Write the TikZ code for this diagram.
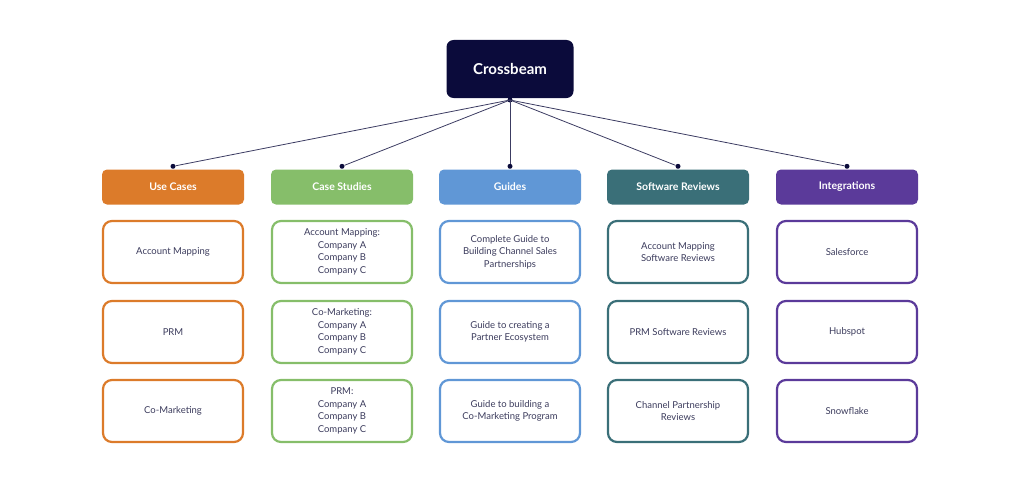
\documentclass[tikz,border=0pt]{standalone}
\usepackage{fontspec}
\setmainfont{Lato}
\definecolor{navy}{HTML}{0B0B3B}
\definecolor{ink}{HTML}{3B3B5C}
\definecolor{cuse}{HTML}{DC7B2A}
\definecolor{ccase}{HTML}{86BE6A}
\definecolor{cguide}{HTML}{6097D6}
\definecolor{creview}{HTML}{3A6F78}
\definecolor{cinteg}{HTML}{5B3A9A}
\begin{document}
\begin{tikzpicture}[x=1pt,y=-1pt,
  root node/.style={rectangle,rounded corners=7pt,fill=navy,text=white,
    font=\bfseries\fontsize{15}{18}\selectfont,minimum width=127pt,minimum height=58pt},
  head node/.style={rectangle,rounded corners=5pt,fill=#1,text=white,
    font=\bfseries\fontsize{10.5}{12}\selectfont,minimum width=142pt,minimum height=35pt},
  item node/.style={rectangle,rounded corners=9pt,draw=#1,line width=2.2pt,
    text=ink,font=\fontsize{9.5}{12.5}\selectfont,align=center,
    minimum width=140pt,minimum height=62pt},
  link/.style={navy!80,line width=0.8pt},
  dot/.style={circle,fill=navy,inner sep=0pt,minimum size=5pt}]
  \useasboundingbox (0,0) rectangle (1024,495);

  \node[root node] (CB) at (510,69) {Crossbeam};
  \coordinate (HUB) at (510,100);
  \node[dot] at (HUB) {};

  \node[head node=cuse] (UC) at (173,187) {Use Cases};
  \node[head node=ccase] (CS) at (342,187) {Case Studies};
  \node[head node=cguide] (GU) at (510,187) {Guides};
  \node[head node=creview] (SR) at (678,187) {Software Reviews};
  \node[head node=cinteg] (IN) at (847,187) {Integrations};

  \foreach \h in {UC,CS,GU,SR,IN} {
    \node[dot] (\h dot) at ([yshift=3pt]\h.north) {};
    \draw[link] (HUB) -- (\h dot);
  }

  \foreach \h/\c/\a/\b/\d in {
      UC/cuse/{Account Mapping}/{PRM}/{Co-Marketing},
      CS/ccase/{Account Mapping:\\Company A\\Company B\\Company C}/{Co-Marketing:\\Company A\\Company B\\Company C}/{PRM:\\Company A\\Company B\\Company C},
      GU/cguide/{Complete Guide to\\Building Channel Sales\\Partnerships}/{Guide to creating a\\Partner Ecosystem}/{Guide to building a\\Co-Marketing Program},
      SR/creview/{Account Mapping\\Software Reviews}/{PRM Software Reviews}/{Channel Partnership\\Reviews},
      IN/cinteg/{Salesforce}/{Hubspot}/{Snowflake}} {
    \node[item node=\c] (\h1) at ([yshift=-65pt]\h.center) {\a};
    \node[item node=\c] (\h2) at ([yshift=-145pt]\h.center) {\b};
    \node[item node=\c] (\h3) at ([yshift=-224pt]\h.center) {\d};
  }
\end{tikzpicture}
\end{document}
